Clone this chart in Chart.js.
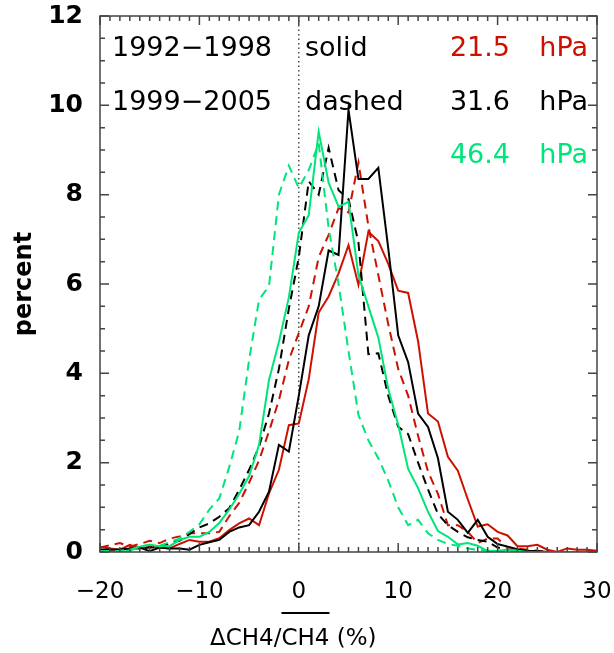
<!DOCTYPE html>
<html>
<head>
<meta charset="utf-8">
<script src="https://cdn.jsdelivr.net/npm/chart.js@4.4.1/dist/chart.umd.min.js"></script>
<style>
  html, body { margin: 0; padding: 0; background: #fff; }
  #wrap { width: 614px; height: 653px; }
</style>
</head>
<body>
<div id="wrap"><canvas id="chart" width="614" height="653"></canvas></div>
<script>
// bin centres, ΔCH4/CH4 in %
const DELTA = [-20, -19, -18, -17, -16, -15, -14, -13, -12, -11,
  -10, -9, -8, -7, -6, -5, -4, -3, -2, -1,
  0, 1, 2, 3, 4, 5, 6, 7, 8, 9,
  10, 11, 12, 13, 14, 15, 16, 17, 18, 19,
  20, 21, 22, 23, 24, 25, 26, 27, 28, 29, 30];

// 1992-1998 (solid)
const RED_9298 = [0.12, 0.08, 0.05, 0.16, 0.08, 0.12, 0.1, 0.08, 0.18, 0.27,
  0.23, 0.23, 0.31, 0.49, 0.64, 0.75, 0.6, 1.31, 1.84, 2.84,
  2.88, 3.87, 5.36, 5.72, 6.24, 6.87, 5.98, 7.17, 6.96, 6.45,
  5.85, 5.8, 4.72, 3.1, 2.92, 2.13, 1.82, 1.18, 0.57, 0.62,
  0.45, 0.37, 0.13, 0.13, 0.16, 0.05, 0, 0.08, 0.05, 0.05, 0.03];
const BLACK_9298 = [0.05, 0.05, 0.05, 0.08, 0.1, 0.02, 0.1, 0.08, 0.08, 0.05,
  0.16, 0.22, 0.27, 0.45, 0.55, 0.6, 0.9, 1.35, 2.4, 2.25,
  3.5, 4.85, 5.5, 6.75, 6.65, 9.9, 8.35, 8.35, 8.6, 6.8,
  4.85, 4.25, 3.1, 2.8, 2.1, 0.9, 0.72, 0.43, 0.72, 0.34,
  0.18, 0.12, 0.06, 0.03, 0.02, 0, 0, 0, 0, 0, 0];
const GREEN_9298 = [0, 0, 0, 0.03, 0.12, 0.16, 0.13, 0.13, 0.27, 0.34,
  0.34, 0.45, 0.65, 0.95, 1.3, 1.7, 2.4, 3.85, 4.7, 5.7,
  7.15, 7.54, 9.41, 8.27, 7.73, 7.84, 6.2, 5.5, 4.8, 3.65,
  2.85, 1.86, 1.43, 0.9, 0.47, 0.34, 0.17, 0.2, 0.14, 0.02,
  0.03, 0.05, 0.03, 0, 0, 0, 0, 0, 0, 0, 0];

// 1999-2005 (dashed)
const RED_9905 = [0.1, 0.15, 0.2, 0.12, 0.18, 0.25, 0.2, 0.3, 0.35, 0.42,
  0.42, 0.42, 0.45, 0.8, 1.1, 1.55, 2.05, 2.7, 3.4, 4.3,
  4.9, 5.5, 6.6, 7.1, 7.7, 7.6, 8.72, 7.3, 6.2, 5.1,
  4.1, 3.5, 2.6, 1.8, 1.3, 0.6, 0.6, 0.45, 0.2, 0.3,
  0.3, 0.1, 0.08, 0.05, 0.03, 0, 0, 0, 0, 0, 0];
const BLACK_9905 = [0.05, 0.05, 0.05, 0.08, 0.08, 0.1, 0.1, 0.2, 0.25, 0.4,
  0.55, 0.64, 0.79, 0.98, 1.39, 1.84, 2.36, 3.1, 4.1, 5.45,
  6.6, 8.3, 8.0, 9.05, 8.1, 7.9, 6.93, 4.43, 4.45, 3.5,
  2.8, 2.64, 2.0, 1.4, 0.85, 0.6, 0.45, 0.33, 0.27, 0.23,
  0.1, 0.05, 0.03, 0, 0, 0, 0, 0, 0, 0, 0];
const GREEN_9905 = [0.02, 0.02, 0.03, 0.05, 0.12, 0.16, 0.14, 0.22, 0.3, 0.45,
  0.62, 0.95, 1.2, 1.9, 2.7, 4.3, 5.65, 5.95, 8.0, 8.65,
  8.15, 8.55, 9.15, 7.25, 6.0, 4.5, 3.07, 2.5, 2.1, 1.6,
  1.0, 0.6, 0.72, 0.42, 0.27, 0.18, 0.14, 0.08, 0.05, 0.03,
  0.02, 0, 0, 0, 0, 0, 0, 0, 0, 0, 0];

const PERIOD_LABELS = ['1992\u22121998', '1999\u22122005'];
const STYLE_LABELS = ['solid', 'dashed'];
const LEVEL_LABELS = ['21.5', '31.6', '46.4'];
const UNIT_LABEL = 'hPa';

const RED = '#cc1100';
const BLACK = '#000000';
const GREEN = '#00e57a';
const LEVEL_COLORS = [RED, BLACK, GREEN];
const DASH = [9, 6];

const FONT = 'DejaVu Sans';

const pts = arr => DELTA.map((d, i) => ({ x: d, y: arr[i] }));
const line = (data, color, dashed) => ({
  data: pts(data), borderColor: color, borderWidth: 2,
  borderDash: dashed ? DASH : [], pointRadius: 0, tension: 0, fill: false,
});

// drop the extra room Chart.js reserves for edge tick labels
const noEdgePadding = s => {
  s.paddingTop = 0; s.paddingBottom = 0; s.paddingLeft = 0; s.paddingRight = 0;
};

const decorations = {
  id: 'decorations',
  beforeDatasetsDraw(chart) {
    const { ctx, chartArea: a, scales: { x } } = chart;
    const x0 = x.getPixelForValue(0);
    ctx.save();
    ctx.strokeStyle = '#333';
    ctx.lineWidth = 1.3;
    ctx.setLineDash([1.5, 3]);
    ctx.beginPath();
    ctx.moveTo(x0, a.top);
    ctx.lineTo(x0, a.bottom);
    ctx.stroke();
    ctx.restore();
  },
  afterDraw(chart) {
    const { ctx, chartArea: a, scales: { x, y } } = chart;
    ctx.save();

    // frame + inward ticks
    ctx.strokeStyle = '#444';
    ctx.lineWidth = 1.5;
    ctx.strokeRect(a.left, a.top, a.right - a.left, a.bottom - a.top);
    ctx.beginPath();
    for (let v = -20; v <= 30; v++) {
      const px = x.getPixelForValue(v);
      const len = v % 10 === 0 ? 9 : 5;
      ctx.moveTo(px, a.bottom); ctx.lineTo(px, a.bottom - len);
      ctx.moveTo(px, a.top); ctx.lineTo(px, a.top + len);
    }
    for (let v = 0; v <= 12; v += 0.5) {
      const py = y.getPixelForValue(v);
      const len = v % 2 === 0 ? 9 : 5;
      ctx.moveTo(a.left, py); ctx.lineTo(a.left + len, py);
      ctx.moveTo(a.right, py); ctx.lineTo(a.right - len, py);
    }
    ctx.stroke();

    // legend text
    ctx.font = `27px "${FONT}"`;
    ctx.textBaseline = 'alphabetic';
    const rows = [56, 110, 163];
    ctx.fillStyle = BLACK;
    ctx.textAlign = 'left';
    PERIOD_LABELS.forEach((t, i) => ctx.fillText(t, 112, rows[i]));
    STYLE_LABELS.forEach((t, i) => ctx.fillText(t, 305, rows[i]));
    ctx.textAlign = 'right';
    LEVEL_LABELS.forEach((t, i) => {
      ctx.fillStyle = LEVEL_COLORS[i];
      ctx.fillText(t, 510, rows[i]);
      ctx.fillText(UNIT_LABEL, 588, rows[i]);
    });

    // x title with overline
    ctx.fillStyle = BLACK;
    ctx.textAlign = 'left';
    ctx.font = `23px "${FONT}"`;
    const parts = ['\u0394CH4/', 'CH4', ' (%)'];
    let tx = 210;
    const base = 645;
    parts.forEach((p, i) => {
      const w = ctx.measureText(p).width;
      ctx.fillText(p, tx, base);
      if (i === 1) {
        ctx.strokeStyle = BLACK;
        ctx.lineWidth = 2;
        ctx.beginPath();
        ctx.moveTo(tx, 613);
        ctx.lineTo(tx + w, 613);
        ctx.stroke();
      }
      tx += w;
    });
    ctx.restore();
  }
};

new Chart(document.getElementById('chart'), {
  type: 'line',
  data: {
    datasets: [
      line(GREEN_9298, GREEN, false),
      line(GREEN_9905, GREEN, true),
      line(BLACK_9298, BLACK, false),
      line(BLACK_9905, BLACK, true),
      line(RED_9298, RED, false),
      line(RED_9905, RED, true),
    ]
  },
  options: {
    responsive: false,
    animation: false,
    devicePixelRatio: 1,
    layout: { padding: { top: 16, right: 17, left: 0, bottom: 0 } },
    plugins: { legend: { display: false }, tooltip: { enabled: false } },
    scales: {
      x: {
        type: 'linear', min: -20, max: 30,
        grid: { display: false }, border: { display: false },
        ticks: {
          stepSize: 10, padding: 18, color: BLACK,
          font: { family: FONT, size: 23 },
          callback: v => v < 0 ? '\u2212' + Math.abs(v) : String(v)
        },
        afterFit: s => { s.height = 101; noEdgePadding(s); }
      },
      y: {
        min: 0, max: 12,
        grid: { display: false }, border: { display: false },
        ticks: {
          stepSize: 2, padding: 9, color: BLACK,
          font: { family: FONT, size: 25, weight: 'bold' }
        },
        title: {
          display: true, text: 'percent', color: BLACK,
          font: { family: FONT, size: 24, weight: 'bold' },
          padding: { top: 10, bottom: 0 }
        },
        afterFit: s => { s.width = 100; noEdgePadding(s); }
      }
    }
  },
  plugins: [decorations]
});
</script>
</body>
</html>
